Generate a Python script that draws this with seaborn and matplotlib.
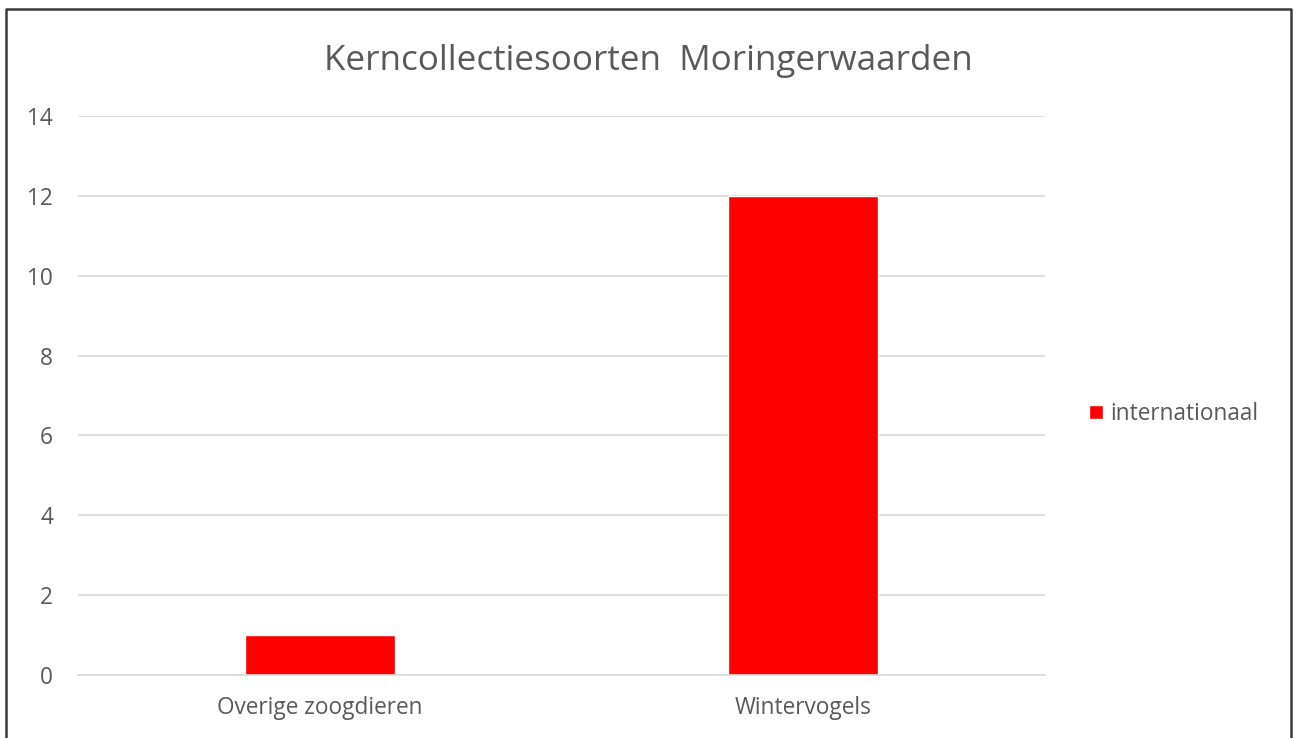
import matplotlib
matplotlib.use("Agg")
import matplotlib.pyplot as plt
import seaborn as sns
import pandas as pd

categories = ["Overige zoogdieren", "Wintervogels"]
values = [1, 12]
series_name = "internationaal"
yticks = [0, 2, 4, 6, 8, 10, 12, 14]

df = pd.DataFrame({"cat": categories, "val": values, "serie": [series_name] * len(categories)})

sns.set_theme(style="white")
plt.rcParams['font.family'] = ['Open Sans', 'DejaVu Sans']

W, H = 1300, 738
fig = plt.figure(figsize=(13, 7.38), dpi=100)
ax = fig.add_axes([78/W, 1-675/H, (1045-78)/W, (675-116)/H])

sns.barplot(data=df, x="cat", y="val", hue="serie", palette=["#ff0000"],
            width=0.31, ax=ax, saturation=1, legend=True)

ax.set_ylim(0, 14)
ax.set_xlim(-0.5, 1.5)
ax.set_yticks(yticks)
ax.set_yticklabels([str(t) for t in yticks], fontsize=16.3, color="#595959")
for lbl in ax.get_xticklabels():
    lbl.set_fontsize(16.3)
    lbl.set_color("#595959")
ax.tick_params(axis='y', length=0, pad=18)
ax.tick_params(axis='x', length=0, pad=15)
ax.yaxis.grid(True, color="#d9d9d9", linewidth=1.2)
ax.set_axisbelow(True)
for s in ["top", "right", "left"]:
    ax.spines[s].set_visible(False)
ax.spines["bottom"].set_color("#d9d9d9")
ax.spines["bottom"].set_linewidth(1.2)
ax.set_xlabel("")
ax.set_ylabel("")

fig.text(648/W, 1-61/H, "Kerncollectiesoorten  Moringerwaarden", ha="center", va="center",
         fontsize=25.2, color="#595959")

leg = ax.legend(loc="center left", bbox_to_anchor=(1080/W, 1-414/H), bbox_transform=fig.transFigure,
                frameon=False, fontsize=16.3, handlelength=0.62, handleheight=0.62,
                handletextpad=0.3, borderaxespad=0)
for t in leg.get_texts():
    t.set_color("#595959")

# figure border (top, left, right; bottom cut off)
fig.add_artist(plt.Line2D([6/W, 6/W, 1291/W, 1291/W], [0, 1-9/H, 1-9/H, 0],
                          transform=fig.transFigure, color="#3a3a3a", linewidth=1.8))

fig.savefig("out.png", dpi=100)
